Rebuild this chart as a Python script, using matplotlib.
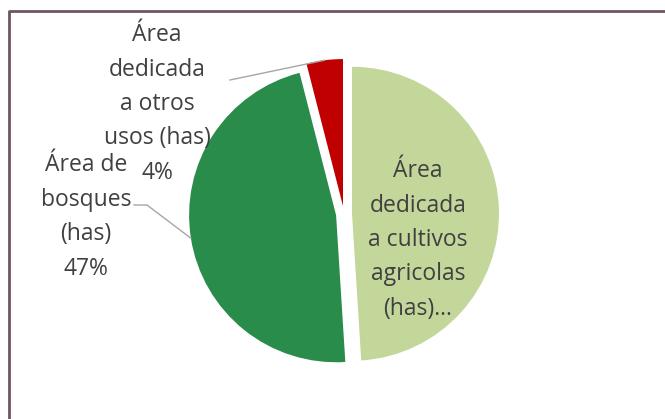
import numpy as np
import matplotlib.pyplot as plt

# datos (porcentajes de superficie)
categorias = ['Área dedicada a cultivos agricolas (has)',
              'Área de bosques (has)',
              'Área dedicada a otros usos (has)']
valores = [49, 47, 4]
colores = ['#c4d79b', '#2a8c4a', '#c00000']
etiquetas = ['Área\ndedicada\na cultivos\nagricolas\n(has)...',
             'Área de\nbosques\n(has)\n{}%',
             'Área\ndedicada\na otros\nusos (has)\n{}%']

W, H = 665, 419
fig = plt.figure(figsize=(W / 100, H / 100), dpi=100)
ax = fig.add_axes([0, 0, 1, 1])

cx, cy = 344, H - 214   # centro del pastel (pixeles)
radio = 147
sep = 8

wedges, _ = ax.pie(valores, colors=colores, startangle=90, counterclock=False,
                   radius=radio, center=(cx, cy), explode=[sep] * 3,
                   wedgeprops=dict(linewidth=0), frame=True)
ax.set_xlim(0, W)
ax.set_ylim(0, H)
ax.set_aspect('equal')
ax.axis('off')

def punto_medio(w):
    t = np.deg2rad((w.theta1 + w.theta2) / 2)
    return w.center[0] + w.r * np.cos(t), w.center[1] + w.r * np.sin(t)

txt = dict(fontfamily='Open Sans', fontsize=16.5, color='#404040',
           ha='center', va='center', multialignment='center', linespacing=1.58)

pct = [round(v * 100 / sum(valores)) for v in valores]
ax.text(418, H - 240, etiquetas[0], **txt)
ax.text(86, H - 217, etiquetas[1].format(pct[1]), **txt)
ax.text(157, H - 104, etiquetas[2].format(pct[2]), **txt)

# lineas guia
gris = '#a6a6a6'
mx, my = punto_medio(wedges[1])
ax.plot([134, 147, mx], [H - 205, H - 205, my], color=gris, lw=1)
mx, my = punto_medio(wedges[2])
ax.plot([230, mx], [H - 80, my], color=gris, lw=1)

# marco (solo izquierda y arriba visibles)
borde = '#6e5563'
ax.plot([9, 9, W + 5], [-5, H - 11, H - 11], color=borde, lw=2, clip_on=False)

fig.savefig('out.png', dpi=100)
